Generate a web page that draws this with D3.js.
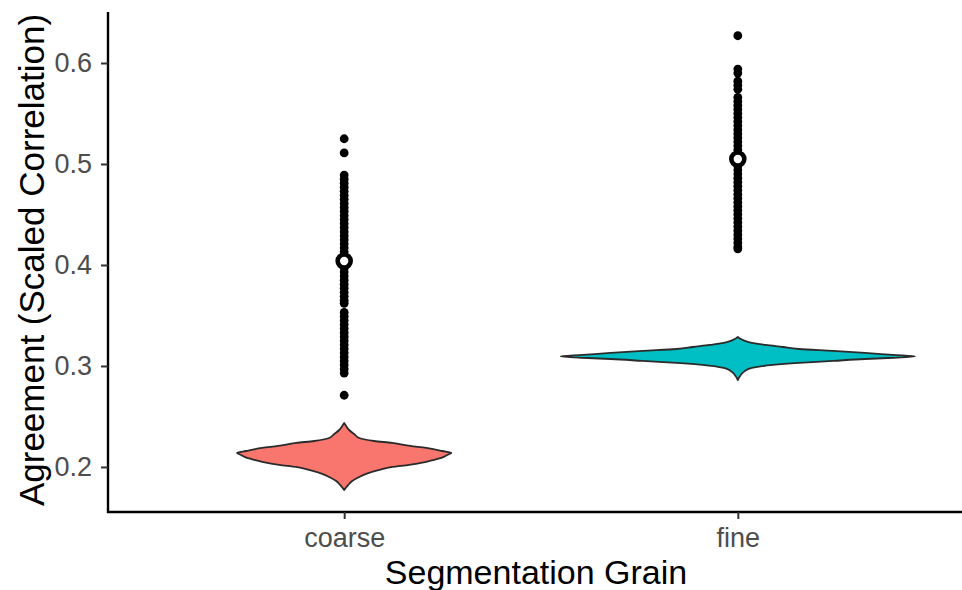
<!DOCTYPE html>
<html>
<head>
<meta charset="utf-8">
<script src="https://cdn.jsdelivr.net/npm/d3@7"></script>
<style>
  html, body { margin: 0; padding: 0; background: #ffffff; }
  svg { display: block; font-family: "Liberation Sans", Arial, sans-serif; }
</style>
</head>
<body>
<svg id="chart" width="962" height="590"></svg>
<script>
// Segmentation grain categories and their fill colours
const categories = ["coarse", "fine"];
const fills = ["#F8766D", "#00BFC4"];

// Violin outlines: agreement value and relative density (widest violin = 1)
const coarseViolinValues = [0.2436, 0.2406, 0.2366, 0.2327, 0.2287, 0.2257, 0.2238, 0.2208, 0.2188, 0.2158, 0.2139, 0.2119, 0.2089, 0.2069, 0.2050, 0.2020, 0.2000, 0.1970, 0.1931, 0.1901, 0.1861, 0.1822, 0.1772];
const coarseViolinDensity = [0, 0.011, 0.028, 0.056, 0.085, 0.169, 0.271, 0.373, 0.463, 0.554, 0.605, 0.582, 0.548, 0.508, 0.463, 0.367, 0.271, 0.198, 0.124, 0.085, 0.045, 0.023, 0];

const fineViolinValues = [0.3287, 0.3267, 0.3248, 0.3228, 0.3208, 0.3188, 0.3168, 0.3149, 0.3129, 0.3109, 0.3094, 0.3079, 0.3069, 0.3050, 0.3030, 0.3010, 0.2980, 0.2951, 0.2911, 0.2861];
const fineViolinDensity = [0, 0.017, 0.040, 0.079, 0.158, 0.254, 0.345, 0.537, 0.718, 0.876, 1.0, 0.847, 0.718, 0.537, 0.345, 0.198, 0.079, 0.040, 0.017, 0];

// Individual agreement scores drawn as points
const coarsePoints = [0.525, 0.511,
  0.489, 0.485, 0.481, 0.477, 0.473, 0.469, 0.465, 0.461, 0.457, 0.453, 0.449, 0.445, 0.441, 0.437,
  0.433, 0.429, 0.425, 0.421, 0.417, 0.413, 0.409, 0.405, 0.401, 0.397, 0.393, 0.389, 0.385, 0.381,
  0.377, 0.373, 0.369, 0.365, 0.362,
  0.353, 0.349, 0.345, 0.341, 0.337, 0.333, 0.329, 0.325, 0.321, 0.317, 0.313, 0.309, 0.305, 0.301,
  0.297, 0.293,
  0.271];
const finePoints = [0.627,
  0.594, 0.590, 0.582, 0.578, 0.574, 0.566, 0.562, 0.558, 0.554, 0.550,
  0.546, 0.542, 0.538, 0.534, 0.530, 0.526, 0.522, 0.518, 0.514, 0.510, 0.506, 0.502, 0.498, 0.494,
  0.490, 0.486, 0.482, 0.478, 0.474, 0.470, 0.466, 0.462, 0.458, 0.454, 0.450, 0.446, 0.442, 0.438,
  0.434, 0.430, 0.426, 0.422, 0.418, 0.416];

// Group means
const means = [0.404, 0.505];

// Axis ticks and titles
const yTicks = [0.2, 0.3, 0.4, 0.5, 0.6];
const xTitle = "Segmentation Grain";
const yTitle = "Agreement (Scaled Correlation)";

const groups = categories.map((c, i) => ({
  name: c,
  fill: fills[i],
  violin: (i === 0 ? coarseViolinValues : fineViolinValues).map((v, j) => ({
    v, d: (i === 0 ? coarseViolinDensity : fineViolinDensity)[j]
  })),
  points: i === 0 ? coarsePoints : finePoints,
  mean: means[i]
}));

const svg = d3.select("#chart");
const plotLeft = 108, plotRight = 974, plotTop = 12, plotBottom = 512;

const x = d3.scalePoint().domain(categories).range([plotLeft, plotRight]).padding(0.6);
const y = d3.scaleLinear().domain([0.1554, 0.6505]).range([plotBottom, plotTop]);
const w = d3.scaleLinear().domain([0, 1]).range([0, 0.45 * x.step()]);

// Violins
groups.forEach(g => {
  const cx = x(g.name);
  const area = d3.area()
    .curve(d3.curveMonotoneY)
    .y(d => y(d.v))
    .x0(d => cx - w(d.d))
    .x1(d => cx + w(d.d));
  svg.append("path")
    .datum(g.violin)
    .attr("d", area)
    .attr("fill", g.fill)
    .attr("stroke", "#2b2b2b")
    .attr("stroke-width", 1.8)
    .attr("stroke-linejoin", "round");
});

// Points
groups.forEach(g => {
  svg.append("g").selectAll("circle")
    .data(g.points)
    .join("circle")
    .attr("cx", x(g.name))
    .attr("cy", d => y(d))
    .attr("r", 4.4)
    .attr("fill", "#000000");
});

// Means
svg.append("g").selectAll("circle")
  .data(groups)
  .join("circle")
  .attr("cx", d => x(d.name))
  .attr("cy", d => y(d.mean))
  .attr("r", 6.5)
  .attr("fill", "#ffffff")
  .attr("stroke", "#000000")
  .attr("stroke-width", 4.6);

// Y axis
const yAxis = svg.append("g")
  .attr("transform", `translate(${plotLeft},0)`)
  .call(d3.axisLeft(y).tickValues(yTicks).tickFormat(d3.format(".1f")).tickSize(7).tickPadding(9));
yAxis.select(".domain").attr("d", `M0,${plotTop}V${plotBottom + 1}`).attr("stroke", "#000").attr("stroke-width", 2.4);
yAxis.selectAll(".tick line").attr("stroke", "#333").attr("stroke-width", 2);
yAxis.selectAll(".tick text")
  .attr("fill", "#4D4D4D")
  .attr("font-size", 27)
  .attr("font-family", "Liberation Sans, Arial, sans-serif");

// X axis
const xAxis = svg.append("g")
  .attr("transform", `translate(0,${plotBottom})`)
  .call(d3.axisBottom(x).tickSize(7).tickPadding(9));
xAxis.select(".domain").attr("d", `M${plotLeft - 1},0H962`).attr("stroke", "#000").attr("stroke-width", 2.4);
xAxis.selectAll(".tick line").attr("stroke", "#333").attr("stroke-width", 2);
xAxis.selectAll(".tick text")
  .attr("fill", "#4D4D4D")
  .attr("font-size", 27)
  .attr("font-family", "Liberation Sans, Arial, sans-serif");

// Axis titles
svg.append("text")
  .attr("x", 536)
  .attr("y", 584)
  .attr("text-anchor", "middle")
  .attr("font-size", 34)
  .attr("fill", "#000")
  .text(xTitle);

svg.append("text")
  .attr("transform", "translate(44,260) rotate(-90)")
  .attr("text-anchor", "middle")
  .attr("font-size", 35)
  .attr("fill", "#000")
  .text(yTitle);
</script>
</body>
</html>
